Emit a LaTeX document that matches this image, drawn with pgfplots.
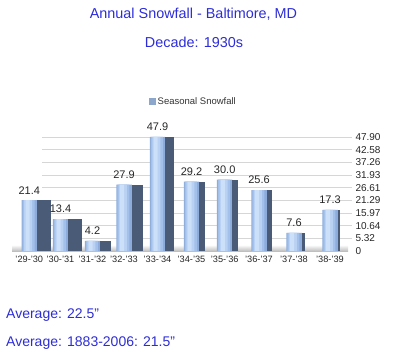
\documentclass[border=0pt]{standalone}
\usepackage{pgfplots}
\usepackage{pgfplotstable}
\pgfplotsset{compat=1.18}
\usepackage{fontspec}
\setmainfont{Liberation Sans}
\definecolor{titleblue}{RGB}{45,45,215}
\definecolor{frontA}{HTML}{8DACDB}
\definecolor{frontB}{HTML}{A3C0EA}
\definecolor{frontC}{HTML}{B9D1F3}
\definecolor{frontD}{HTML}{CDE0FA}
\definecolor{sideC}{HTML}{4A5B78}
\definecolor{legC}{HTML}{8DA6CB}
\definecolor{gridC}{HTML}{D6D6D6}
\pgfplotstableread{
x      y
29.3   21.4
60.5   13.4
92.5   4.2
124    27.9
157.5  47.9
191.5  29.2
224.7  30.0
259    25.6
294    7.6
330    17.3
}\snow
\begin{document}
\begin{tikzpicture}
\path[use as bounding box] (0pt,0pt) rectangle (400pt,353pt);
\node[font=\fontsize{14.4}{17}\selectfont, text=titleblue] at (193.5pt,339pt) {Annual Snowfall - Baltimore, MD};
\node[font=\fontsize{14.4}{17}\selectfont, text=titleblue] at (194pt,311pt) {Decade: 1930s};
\node[font=\fontsize{14}{17}\selectfont, text=titleblue, anchor=west, inner sep=0pt] at (6pt,37.5pt) {Average: 22.5”};
\node[font=\fontsize{14}{17}\selectfont, text=titleblue, anchor=west, inner sep=0pt] at (6pt,9.8pt) {Average: 1883-2006: 21.5”};
\begin{axis}[
  at={(0pt,102pt)}, anchor=south west,
  scale only axis, width=352pt, height=114pt,
  xmin=0, xmax=352, ymin=0, ymax=47.9,
  clip=false,
  axis line style={draw=none},
  major tick length=0pt,
  tick style={draw=none},
  /pgf/number format/assume math mode=true,
  xtick={29.3,60.5,92.5,124,157.5,191.5,224.7,259,294,330},
  xticklabels={'29-'30,'30-'31,'31-'32,'32-'33,'33-'34,'34-'35,'35-'36,'36-'37,'37-'38,'38-'39},
  xticklabel style={font=\fontsize{9.2}{11}\selectfont, text=black!85, yshift=-1.5pt},
  ytick={0,5.3222,10.6444,15.9667,21.2889,26.6111,31.9333,37.2556,42.5778,47.9},
  yticklabels={0,5.32,10.64,15.97,21.29,26.61,31.93,37.26,42.58,47.90},
  yticklabel pos=right,
  yticklabel style={font=\fontsize{10}{12}\selectfont, text=black!85, anchor=west},
  legend style={at={(axis cs:193.5,62.8)}, anchor=center, draw=none, fill=none,
    font=\fontsize{9.5}{11}\selectfont, text=black!80},
  legend image code/.code={\fill[legC] (0pt,-3.3pt) rectangle (6.6pt,3.3pt);},
]
\pgfplotsinvokeforeach{5.3222,10.6444,15.9667,21.2889,26.6111,31.9333,37.2556,42.5778,47.9}{
  \draw[gridC, line width=0.8pt] (axis cs:42,#1) -- (axis cs:352,#1);
}
\fill[bottom color=black!28, top color=white] (axis cs:12,-0.3) rectangle (axis cs:348,2.6);
\addplot[ybar, bar width=15.5, bar shift=0, draw=none, fill=frontA,
  nodes near coords={\pgfmathprintnumber[fixed,fixed zerofill,precision=1]{\pgfplotspointmeta}},
  nodes near coords style={font=\fontsize{11}{13}\selectfont, text=black!85, anchor=south, yshift=2.5pt}]
  table[x=x,y=y] {\snow};
\addlegendentry{Seasonal Snowfall}
\addplot[ybar, bar width=12, bar shift=-0.6, draw=none, fill=frontB] table[x=x,y=y] {\snow};
\addplot[ybar, bar width=8, bar shift=-1.2, draw=none, fill=frontC] table[x=x,y=y] {\snow};
\addplot[ybar, bar width=4, bar shift=-1.8, draw=none, fill=frontD] table[x=x,y=y] {\snow};
\addplot[ybar, bar width=14.3, bar shift=14.9, fill=sideC, draw=none] coordinates {(29.3,21.4)};
\addplot[ybar, bar width=13.3, bar shift=14.4, fill=sideC, draw=none] coordinates {(60.5,13.4)};
\addplot[ybar, bar width=11, bar shift=13.25, fill=sideC, draw=none] coordinates {(92.5,4.2)};
\addplot[ybar, bar width=11, bar shift=13.25, fill=sideC, draw=none] coordinates {(124,27.9)};
\addplot[ybar, bar width=8.3, bar shift=11.9, fill=sideC, draw=none] coordinates {(157.5,47.9)};
\addplot[ybar, bar width=6, bar shift=10.75, fill=sideC, draw=none] coordinates {(191.5,29.2)};
\addplot[ybar, bar width=5.3, bar shift=10.4, fill=sideC, draw=none] coordinates {(224.7,30.0)};
\addplot[ybar, bar width=5.3, bar shift=10.4, fill=sideC, draw=none] coordinates {(259,25.6)};
\addplot[ybar, bar width=3.5, bar shift=9.5, fill=sideC, draw=none] coordinates {(294,7.6)};
\addplot[ybar, bar width=2.5, bar shift=9, fill=sideC, draw=none] coordinates {(330,17.3)};
\end{axis}
\end{tikzpicture}
\end{document}
